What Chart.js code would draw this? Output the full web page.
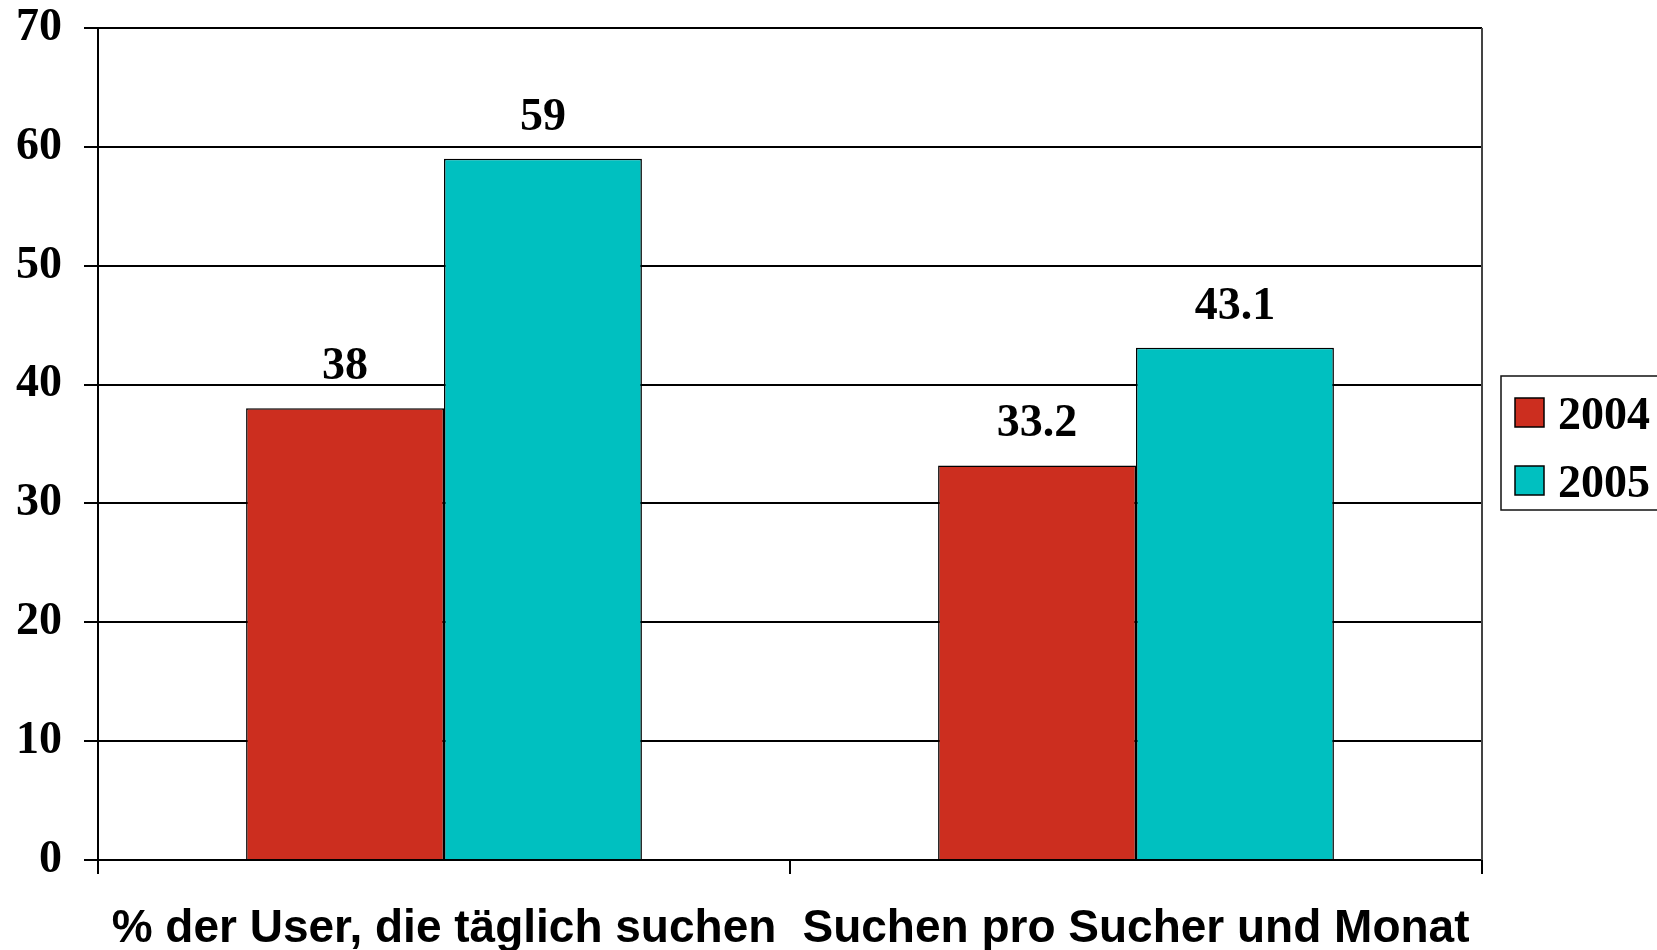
<!DOCTYPE html>
<html>
<head>
<meta charset="utf-8">
<script src="https://cdn.jsdelivr.net/npm/chart.js@4/dist/chart.umd.min.js"></script>
<style>
  html, body { margin: 0; padding: 0; background: #fff; }
  #wrap { width: 1657px; height: 950px; }
</style>
</head>
<body>
<div id="wrap"><canvas id="suchChart"></canvas></div>
<script>
// categories, series and ticks
const categories = ["% der User, die täglich suchen", "Suchen pro Sucher und Monat"];
const years = ["2004", "2005"];
const values2004 = [38, 33.2];
const values2005 = [59, 43.1];
const yTicks = [0, 10, 20, 30, 40, 50, 60, 70];

const serifBold = "bold 46px 'Liberation Serif', 'Times New Roman', serif";

// value labels above each bar
const valueLabels = {
  id: "valueLabels",
  afterDatasetsDraw(chart) {
    const ctx = chart.ctx;
    ctx.save();
    ctx.font = serifBold;
    ctx.fillStyle = "#000";
    ctx.textAlign = "center";
    ctx.textBaseline = "alphabetic";
    chart.data.datasets.forEach((ds, i) => {
      chart.getDatasetMeta(i).data.forEach((bar, j) => {
        ctx.fillText(String(ds.data[j]), bar.x, bar.y - 29);
      });
    });
    ctx.restore();
  },
};

// right frame line + boxed legend
const frameAndLegend = {
  id: "frameAndLegend",
  afterDraw(chart) {
    const ctx = chart.ctx;
    const area = chart.chartArea;
    ctx.save();
    ctx.strokeStyle = "#444";
    ctx.lineWidth = 2;
    ctx.beginPath();
    ctx.moveTo(area.right, area.top);
    ctx.lineTo(area.right, area.bottom);
    ctx.stroke();

    // legend box
    ctx.strokeStyle = "#111";
    ctx.lineWidth = 1.5;
    ctx.strokeRect(1501, 376, 170, 134);
    ctx.font = serifBold;
    ctx.textAlign = "left";
    ctx.textBaseline = "alphabetic";
    chart.data.datasets.forEach((ds, i) => {
      const y = 398 + i * 68;
      ctx.fillStyle = ds.backgroundColor;
      ctx.fillRect(1515, y, 29, 29);
      ctx.strokeStyle = "#000";
      ctx.lineWidth = 1.5;
      ctx.strokeRect(1515, y, 29, 29);
      ctx.fillStyle = "#000";
      ctx.fillText(ds.label, 1558, y + 31);
    });
    ctx.restore();
  },
};

new Chart(document.getElementById("suchChart"), {
  type: "bar",
  data: {
    labels: categories,
    datasets: [
      {
        label: years[0],
        data: values2004,
        backgroundColor: "#cc2e1f",
        borderColor: "#000",
        borderWidth: 1.5,
      },
      {
        label: years[1],
        data: values2005,
        backgroundColor: "#00c0c0",
        borderColor: "#000",
        borderWidth: 1.5,
      },
    ],
  },
  options: {
    responsive: true,
    maintainAspectRatio: false,
    animation: false,
    layout: { padding: { top: 28, right: 175, left: 0, bottom: 0 } },
    plugins: {
      legend: { display: false },
      tooltip: { enabled: false },
    },
    datasets: {
      bar: { categoryPercentage: 0.572, barPercentage: 1 },
    },
    scales: {
      x: {
        afterFit(scale) {
          scale.height = 90;
          scale.paddingLeft = 0;
          scale.paddingRight = 0;
        },
        grid: {
          offset: true,
          drawOnChartArea: false,
          drawTicks: true,
          tickLength: 14,
          color: "#000",
          lineWidth: 2,
        },
        border: { color: "#000", width: 2 },
        ticks: {
          color: "#000",
          padding: 28,
          maxRotation: 0,
          autoSkip: false,
          font: { family: "'Liberation Sans', Arial, sans-serif", size: 46, weight: "bold" },
        },
      },
      y: {
        min: 0,
        max: 70,
        afterFit(scale) {
          scale.width = 98;
          scale.paddingTop = 0;
          scale.paddingBottom = 0;
        },
        afterBuildTicks(scale) { scale.ticks = yTicks.map((v) => ({ value: v })); },
        grid: {
          color: "#000",
          lineWidth: 2,
          drawTicks: true,
          tickLength: 14,
        },
        border: { color: "#000", width: 2 },
        ticks: {
          color: "#000",
          padding: 22,
          font: { family: "'Liberation Serif', 'Times New Roman', serif", size: 46, weight: "bold" },
        },
      },
    },
  },
  plugins: [valueLabels, frameAndLegend],
});
</script>
</body>
</html>
